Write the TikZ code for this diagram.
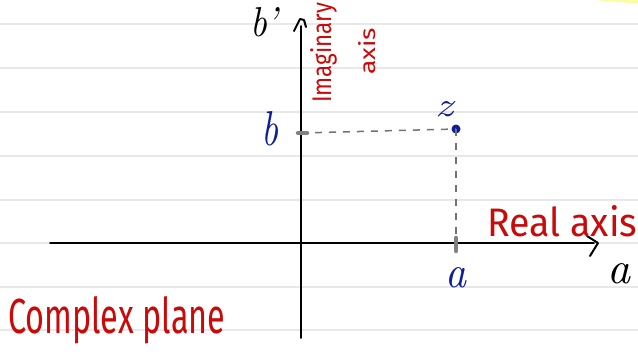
\documentclass[tikz,border=0pt]{standalone}
\usepackage{fontspec}
\setsansfont{Fira Sans}
\usepackage{graphicx}
\definecolor{penred}{RGB}{200,10,10}
\definecolor{penblue}{RGB}{15,30,150}
\definecolor{rule}{RGB}{232,232,232}
\definecolor{dashgray}{RGB}{115,115,115}
\definecolor{hilite}{RGB}{250,250,120}
\tikzset{
  ruled/.style={draw=rule, line width=1.6pt},
  axisline/.style={draw=black, line width=1.8pt, line cap=round},
  tipline/.style={draw=black, line width=2pt, line cap=round, line join=round},
  guide/.style={draw=dashgray, line width=1.5pt, dash pattern=on 7pt off 7pt},
  tick/.style={draw=dashgray!90, line width=4.5pt, line cap=round},
  redtext/.style={text=penred, inner sep=0pt, font=\sffamily},
  bluelbl/.style={text=penblue, inner sep=0pt, font=\itshape},
  blacklbl/.style={text=black, inner sep=0pt, font=\itshape},
}
\begin{document}
\begin{tikzpicture}[x=1pt, y=-1pt]
\useasboundingbox (0,0) rectangle (638,357);
\fill[white] (0,0) rectangle (638,357);
% highlighter trace
\fill[hilite, opacity=0.7] (596,0) .. controls (615,2) and (630,3) .. (638,3) -- (638,0) -- cycle;
% notebook rules
\foreach \yy in {24,68,112,156,200,243,287,330}
  \draw[ruled] (0,\yy) -- (638,\yy);
% axes
\coordinate (xstart) at (50,243);
\coordinate (xend) at (594,243);
\coordinate (ystart) at (301,338);
\coordinate (yend) at (301,26);
\draw[axisline] (xstart) -- (xend);
\draw[axisline] (ystart) -- (yend);
\draw[tipline] (587,236) -- (598,243) -- (590,256);
\draw[tipline] (294,31) -- (300,19) -- (304,20) -- (306,27);
% point z
\coordinate (btick) at (301,133);
\coordinate (atick) at (456,243);
\node[circle, fill=penblue, inner sep=0pt, minimum size=9pt] (z) at (456,129) {};
\draw[guide] (btick) -- (z.center);
\draw[guide] (z.center) -- (atick);
\draw[tick] (298,133) -- (307,133);
\draw[tick] (456,238) -- (456,251);
% labels
\node[bluelbl, anchor=base west] (zl) at (435,116) {\resizebox{18pt}{15pt}{z}};
\node[bluelbl, anchor=base west] (bl) at (261,145) {\resizebox{17pt}{34pt}{b}};
\node[bluelbl, anchor=base west] (al) at (445,287) {\resizebox{21pt}{20pt}{a}};
\node[blacklbl, anchor=base west] (bp) at (250,36) {\resizebox{28pt}{29pt}{b'}};
\node[blacklbl, anchor=base west] (ap) at (607,283) {\resizebox{23pt}{20pt}{a}};
% red handwriting
\node[redtext, anchor=base west] (cp) at (8,333) {\resizebox{217pt}{37pt}{Complex plane}};
\node[redtext, anchor=base west] (ra) at (487,236) {\resizebox{150pt}{31pt}{Real axis}};
\node[redtext, rotate=90, anchor=base west] (ia1) at (331,103) {\resizebox{100pt}{21pt}{Imaginary}};
\node[redtext, rotate=90, anchor=base west] (ia2) at (375,75) {\resizebox{47pt}{17pt}{axis}};
\end{tikzpicture}
\end{document}
